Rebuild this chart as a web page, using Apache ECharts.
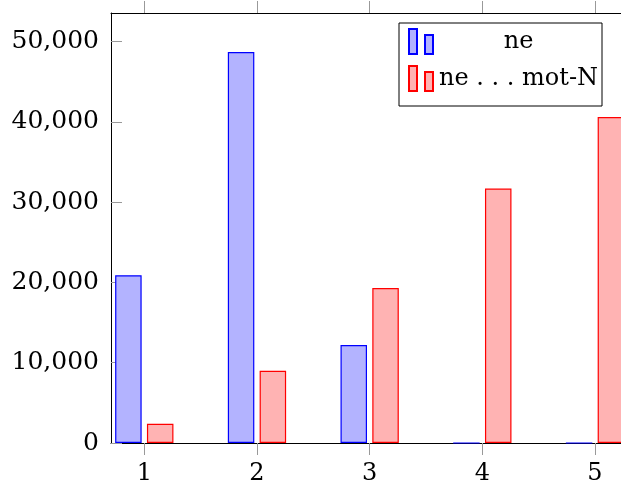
<!DOCTYPE html>
<html>
<head>
<meta charset="utf-8">
<script src="https://cdn.jsdelivr.net/npm/echarts@6/dist/echarts.min.js"></script>
<style>
html,body{margin:0;padding:0;background:#fff;}
#chart{width:621px;height:492px;}
</style>
</head>
<body>
<div id="chart"></div>
<script>
const positions = [1, 2, 3, 4, 5];
const neValues = [20900, 48700, 12200, 0, 0];
const neMotValues = [2400, 9000, 19300, 31700, 40600];
const seriesNames = ['ne', 'ne . . . mot-N'];
const xTicks = [1, 2, 3, 4, 5];
const yTicks = [0, 10000, 20000, 30000, 40000, 50000];

const FONT = 'DejaVu Serif';
const fmt = v => String(Math.round(v)).replace(/\B(?=(\d{3})+(?!\d))/g, ',');

const chart = echarts.init(document.getElementById('chart'));
chart.setOption({
  animation: false,
  backgroundColor: '#fff',
  grid: { left: 111, top: 13, bottom: 49, right: 0 },
  legend: {
    orient: 'vertical',
    left: 399, top: 23,
    padding: [5, 4, 14, 9],
    backgroundColor: '#fff',
    borderColor: '#000', borderWidth: 1,
    itemWidth: 25, itemHeight: 25, itemGap: 10,
    icon: 'path://M0,0L8,0L8,25L0,25Z M16,6L24,6L24,25L16,25Z',
    data: seriesNames,
    formatter: n => '{t|' + n + '}',
    textStyle: {
      rich: { t: { width: 160, align: 'center', fontSize: 24, fontFamily: FONT, color: '#000' } }
    }
  },
  xAxis: [{
    type: 'value', position: 'bottom', min: 0.7045, max: 5.2307, interval: 1,
    splitLine: { show: false },
    axisLine: { show: true, onZero: false, lineStyle: { color: '#000', width: 1 } },
    axisTick: { show: true, inside: false, length: 12, customValues: xTicks, lineStyle: { color: '#999' } },
    axisLabel: { customValues: xTicks, margin: 19, fontSize: 24, fontFamily: FONT, color: '#000' }
  }, {
    type: 'value', position: 'top', min: 0.7045, max: 5.2307, interval: 1,
    splitLine: { show: false },
    axisLine: { show: true, onZero: false, lineStyle: { color: '#000', width: 1 } },
    axisTick: { show: true, inside: false, length: 12, customValues: xTicks, lineStyle: { color: '#999' } },
    axisLabel: { show: false }
  }],
  yAxis: [{
    type: 'value', min: 0, max: 53570, interval: 10000,
    splitLine: { show: false },
    axisLine: { show: true, lineStyle: { color: '#000', width: 1 } },
    axisTick: { show: true, inside: true, length: 11, customValues: yTicks, lineStyle: { color: '#999' } },
    axisLabel: { customValues: yTicks, margin: 12, fontSize: 25, fontFamily: FONT, color: '#000', formatter: fmt }
  }],
  series: [{
    name: seriesNames[0], type: 'bar', xAxisIndex: 0,
    barWidth: 26.5, barGap: '20%',
    data: positions.map((p, i) => [p, neValues[i]]),
    itemStyle: { color: '#b3b3ff', borderColor: '#0000ff', borderWidth: 1.2 }
  }, {
    name: seriesNames[1], type: 'bar', xAxisIndex: 0,
    barWidth: 26.5, barGap: '20%',
    data: positions.map((p, i) => [p, neMotValues[i]]),
    itemStyle: { color: '#ffb3b3', borderColor: '#ff0000', borderWidth: 1.2 }
  }]
});
</script>
</body>
</html>
